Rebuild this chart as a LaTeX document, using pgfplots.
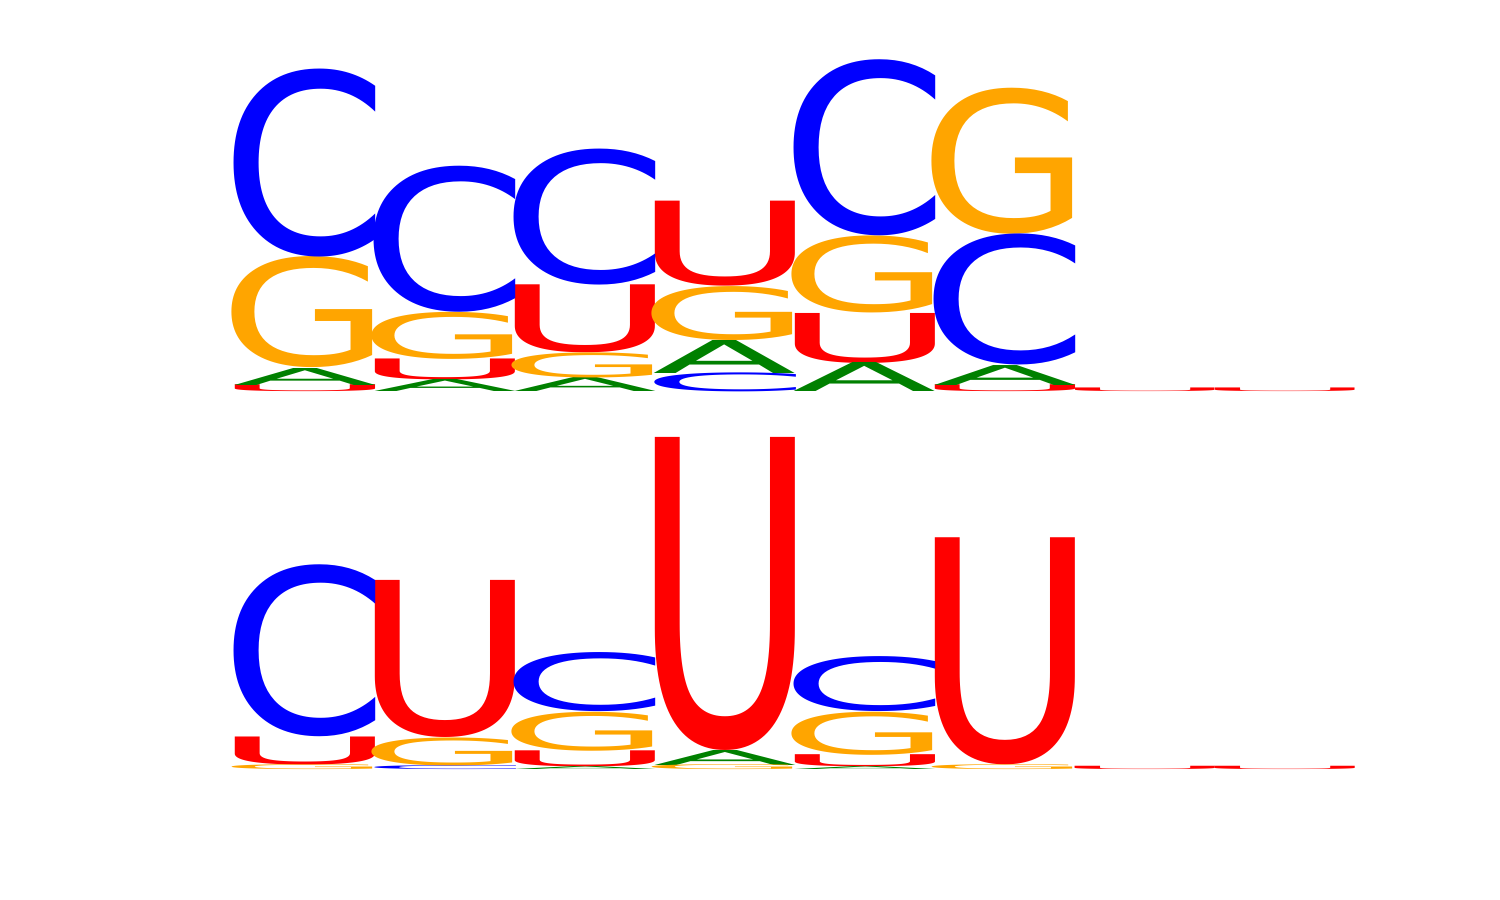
\documentclass[border=0pt]{standalone}
\usepackage{pgfplots}
\usepackage{pgfplotstable}
\usepackage{graphicx}
\usepackage{fontspec}
\setmainfont{DejaVu Sans}
\pgfplotsset{compat=1.18}

\definecolor{logoA}{RGB}{0,128,0}
\definecolor{logoC}{RGB}{0,0,255}
\definecolor{logoG}{RGB}{255,165,0}
\definecolor{logoU}{RGB}{255,0,0}

\newlength\bitlen \setlength\bitlen{16.5mm}
\newlength\cellw  \setlength\cellw{14.1mm}
\newlength\glyphw

% #1 letter, #2 width factor (advance / ink width), #3 height in bits
\newcommand\logoglyph[3]{%
  \setlength\glyphw{#2\cellw}%
  \textcolor{logo#1}{\resizebox*{\glyphw}{#3\bitlen}{#1}}}

% position, bottom (bits), height (bits) -- one table per letter and row
\pgfplotstableread{
x y h
1 0 0.042
2 0.073 0.127
3 0.237 0.412
4 0.642 0.515
5 0.176 0.303
6 0 0.042
7 0 0.022
8 0 0.022
}\topU
\pgfplotstableread{
x y h
1 0.042 0.103
2 0 0.073
3 0 0.085
4 0.115 0.200
5 0 0.176
6 0.042 0.121
}\topA
\pgfplotstableread{
x y h
1 0.145 0.673
2 0.200 0.285
3 0.085 0.152
4 0.315 0.327
5 0.479 0.467
6 0.957 0.885
}\topG
\pgfplotstableread{
x y h
1 0.818 1.139
2 0.485 0.885
3 0.649 0.824
4 0 0.115
5 0.946 1.067
6 0.163 0.794
}\topC

\pgfplotstableread{
x y h
1 0.030 0.170
2 0.194 0.952
3 0.018 0.097
4 0.121 1.897
5 0.018 0.073
6 0.030 1.376
7 0 0.020
8 0 0.020
}\botU
\pgfplotstableread{
x y h
3 0 0.018
4 0.030 0.091
5 0 0.018
}\botA
\pgfplotstableread{
x y h
1 0 0.030
2 0.024 0.170
3 0.115 0.236
4 0 0.030
5 0.091 0.261
6 0 0.030
}\botG
\pgfplotstableread{
x y h
1 0.200 1.042
2 0 0.024
3 0.351 0.358
5 0.352 0.333
}\botC

\pgfplotsset{
  logoaxis/.style={
    hide axis, clip=false, scale only axis,
    anchor=south west,
    width=112mm, height=34.65mm,
    xmin=0.5, xmax=8.5, ymin=0, ymax=2.1,
  },
  letter/.style n args={2}{
    only marks, mark=none,
    point meta=explicit symbolic,
    nodes near coords={\logoglyph{#1}{#2}{\pgfplotspointmeta}},
    every node near coord/.append style={anchor=south, inner sep=0pt, outer sep=0pt},
  },
}

\begin{document}
\begin{tikzpicture}
\useasboundingbox (0,0) rectangle (150mm,90mm);
\begin{axis}[logoaxis, at={(23.5mm,50.8mm)}]
\addplot[letter={U}{1.302}] table[x=x, y=y, meta=h] {\topU};
\addplot[letter={A}{1.024}] table[x=x, y=y, meta=h] {\topA};
\addplot[letter={G}{1.214}] table[x=x, y=y, meta=h] {\topG};
\addplot[letter={C}{1.193}] table[x=x, y=y, meta=h] {\topC};
\end{axis}
\begin{axis}[logoaxis, at={(23.5mm,13mm)}]
\addplot[letter={U}{1.302}] table[x=x, y=y, meta=h] {\botU};
\addplot[letter={A}{1.024}] table[x=x, y=y, meta=h] {\botA};
\addplot[letter={G}{1.214}] table[x=x, y=y, meta=h] {\botG};
\addplot[letter={C}{1.193}] table[x=x, y=y, meta=h] {\botC};
\end{axis}
\end{tikzpicture}
\end{document}
